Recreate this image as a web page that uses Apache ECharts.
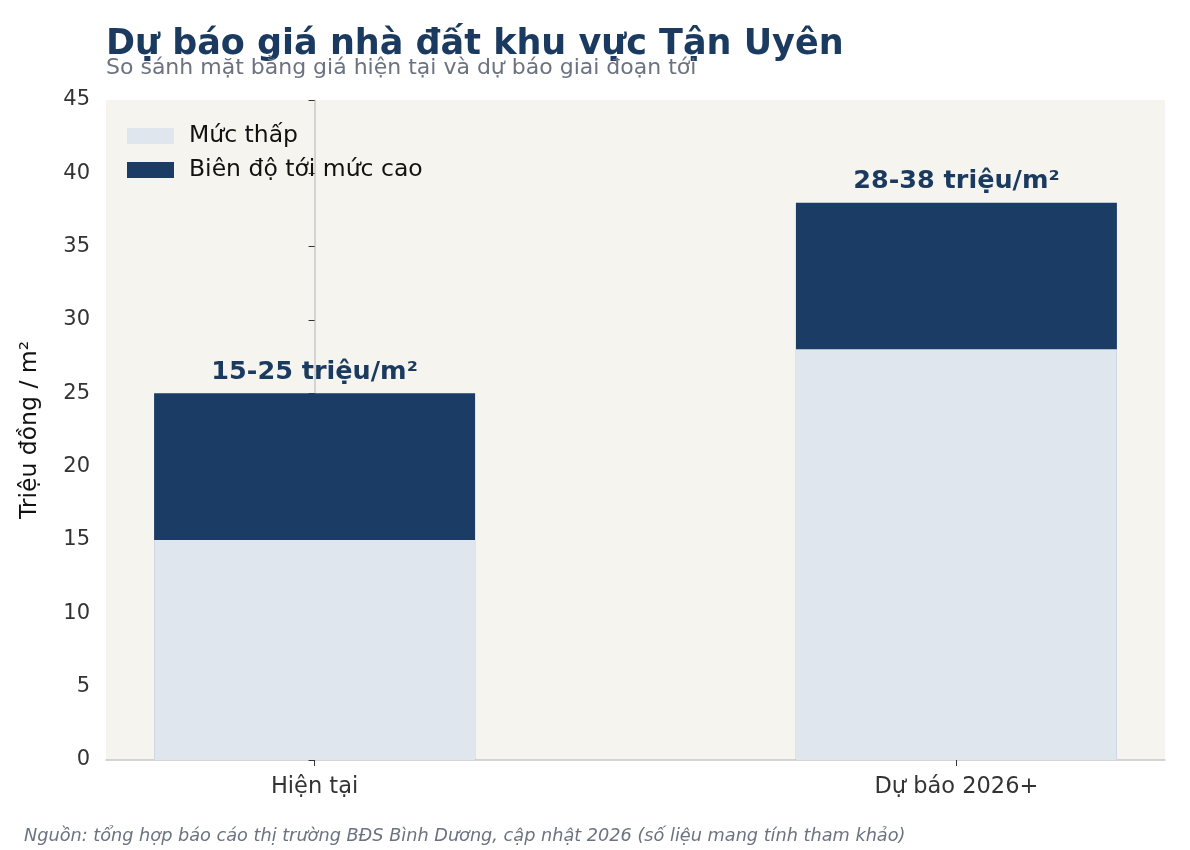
<!DOCTYPE html>
<html><head><meta charset="utf-8">
<script src="https://cdn.jsdelivr.net/npm/echarts@6/dist/echarts.min.js"></script>
<style>html,body{margin:0;background:#fff}#c{width:1190px;height:850px}</style>
</head><body><div id="c"></div>
<script>
const categories = ['Hiện tại', 'Dự báo 2026+'];
const lowValues = [15, 28];
const highValues = [25, 38];
const rangeLabels = ['15-25 triệu/m²', '28-38 triệu/m²'];
const yTicks = [0, 5, 10, 15, 20, 25, 30, 35, 40, 45];

const F = 'DejaVu Sans';
const chart = echarts.init(document.getElementById('c'));
chart.setOption({
  animation: false,
  textStyle: { fontFamily: F },
  title: [
    { text: 'Dự báo giá nhà đất khu vực Tận Uyên', left: 101, top: 22,
      textStyle: { fontFamily: F, fontSize: 35, fontWeight: 'bold', color: '#1a3a5f' } },
    { text: 'So sánh mặt bằng giá hiện tại và dự báo giai đoạn tới', left: 101, top: 52,
      textStyle: { fontFamily: F, fontSize: 22, fontWeight: 'normal', color: '#6b7280' } },
    { text: 'Nguồn: tổng hợp báo cáo thị trường BĐS Bình Dương, cập nhật 2026 (số liệu mang tính tham khảo)',
      left: 19, top: 822,
      textStyle: { fontFamily: F, fontSize: 17.7, fontStyle: 'italic', fontWeight: 'normal', color: '#6b7280' } }
  ],
  legend: {
    left: 122, top: 119, orient: 'vertical', itemWidth: 47, itemHeight: 16, itemGap: 10,
    textStyle: { fontFamily: F, fontSize: 23.5, color: '#111', padding: [0, 0, 0, 10] }, icon: 'rect',
    data: ['Mức thấp', 'Biên độ tới mức cao']
  },
  grid: { left: 106, right: 25, top: 100, bottom: 90, backgroundColor: '#f5f4ef', show: true, borderWidth: 0 },
  xAxis: {
    type: 'value', min: -0.325, max: 1.325,
    axisLine: { lineStyle: { color: '#c8c8c8', width: 1.5 } },
    axisTick: { show: true, customValues: [0, 1], length: 6, lineStyle: { color: '#333' } },
    axisLabel: { customValues: [0, 1], formatter: v => categories[Math.round(v)] || '',
      fontSize: 22.5, color: '#333', margin: 16 },
    splitLine: { show: false }
  },
  yAxis: {
    type: 'value', min: yTicks[0], max: yTicks[yTicks.length - 1], interval: 5,
    name: 'Triệu đồng / m²', nameLocation: 'middle', nameGap: 64, nameRotate: 90,
    nameTextStyle: { fontSize: 23.5, color: '#111' },
    axisLine: { show: true, lineStyle: { color: '#c8c8c8', width: 1.5 } },
    axisTick: { show: true, length: 6, lineStyle: { color: '#333' } },
    axisLabel: { fontSize: 21, color: '#333', margin: 16 },
    splitLine: { show: false }
  },
  series: [
    { name: 'Biên độ tới mức cao', type: 'bar', barWidth: 321, barGap: '-100%', z: 2,
      data: highValues.map((v, i) => [i, v]),
      itemStyle: { color: '#1b3c64' },
      label: { show: true, position: 'top', distance: 8,
        formatter: p => rangeLabels[p.dataIndex],
        fontFamily: F, fontSize: 25.5, fontWeight: 'bold', color: '#1a3a5f' } },
    { name: 'Mức thấp', type: 'bar', barWidth: 321, barGap: '-100%', z: 3,
      data: lowValues.map((v, i) => [i, v]),
      itemStyle: { color: '#dfe6ee' } }
  ]
});
</script></body></html>
